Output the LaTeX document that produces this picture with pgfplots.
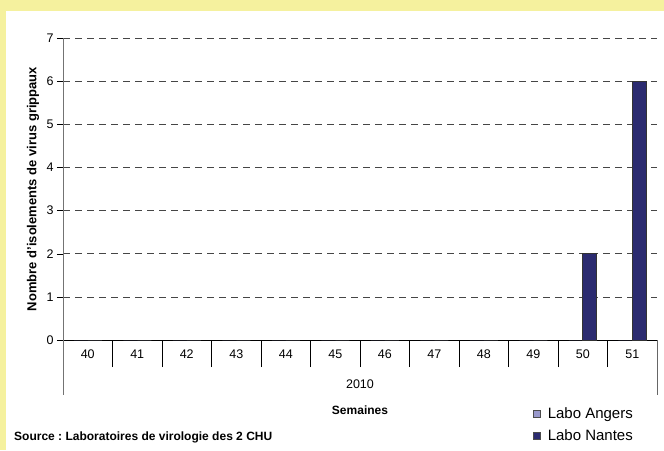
\documentclass[border=0pt]{standalone}
\usepackage{pgfplots}
\pgfplotsset{compat=1.18}
\usepackage{fontspec}
\setmainfont{Liberation Sans}
\definecolor{bgyellow}{RGB}{245,241,158}
\definecolor{nantes}{RGB}{43,43,112}
\definecolor{angers}{RGB}{153,153,204}
\definecolor{gridgray}{RGB}{70,70,70}
\begin{document}
\frenchspacing
\begin{tikzpicture}[x=1pt,y=1pt]
\fill[bgyellow] (0,0) rectangle (664,450);
\fill[white] (6,0) rectangle (664,439);
\begin{axis}[
  at={(63pt,110pt)}, anchor=south west,
  width=594pt, height=302pt, scale only axis,
  clip=false,
  xmin=-0.5, xmax=11.5, ymin=0, ymax=7,
  ybar=0pt, bar width=14pt,
  axis x line*=bottom, axis y line*=left,
  x axis line style={black, -},
  y axis line style={gray!90!black, line width=0.8pt, -},
  ytick={0,1,2,3,4,5,6,7},
  yticklabels={0,1,2,3,4,5,6,7},
  xtick={0,...,11},
  xticklabels={40,41,42,43,44,45,46,47,48,49,50,51},
  tick align=outside, major tick length=6pt,
  xtick style={draw=none},
  ytick style={black},
  extra x ticks={0.5,1.5,2.5,3.5,4.5,5.5,6.5,7.5,8.5,9.5,10.5},
  extra x tick labels={},
  extra x tick style={major tick length=27pt, tick align=outside, xtick style={draw=black}, grid=none},
  ymajorgrids, grid style={gridgray, dash pattern=on 7pt off 5pt, line width=0.6pt},
  /pgf/number format/assume math mode=true,
  tick label style={font=\fontsize{12.5}{14}\selectfont},
  legend style={at={(axis description cs:0.7912,-0.215)}, anchor=north west, draw=none, fill=none,
    font=\fontsize{15}{17}\selectfont, row sep=6pt, inner sep=0pt},
  legend cell align=left,
]
\addplot[fill=angers, draw=none,
  legend image code/.code={\draw[fill=angers, draw=black!70, line width=0.6pt] (0pt,-3.5pt) rectangle (7pt,3.5pt); \path (12pt,0pt);}]
  coordinates {(0,0) (1,0) (2,0) (3,0) (4,0) (5,0) (6,0) (7,0) (8,0) (9,0) (10,0) (11,0)};
\addlegendentry{Labo Angers}
\addplot[fill=nantes, draw=black!80, line width=0.6pt,
  legend image code/.code={\draw[fill=nantes, draw=black!70, line width=0.6pt] (0pt,-3.5pt) rectangle (7pt,3.5pt); \path (12pt,0pt);}]
  coordinates {(0,0) (1,0) (2,0) (3,0) (4,0) (5,0) (6,0) (7,0) (8,0) (9,0) (10,2) (11,6)};
\addlegendentry{Labo Nantes}
\draw[gray!90!black, line width=0.8pt] (rel axis cs:0,0) -- ++(0pt,-55pt);
\draw[gray!80!black, line width=0.6pt] (rel axis cs:1,0) -- ++(0pt,-55pt);
\node[font=\fontsize{12.5}{14}\selectfont] at ([yshift=-44pt]rel axis cs:0.5,0) {2010};
\node[font=\bfseries\fontsize{12}{14}\selectfont] at ([yshift=-70pt]rel axis cs:0.5,0) {Semaines};
\node[rotate=90, font=\bfseries\fontsize{13}{15}\selectfont] at ([xshift=-30pt]rel axis cs:0,0.5) {Nombre d\symbol{"27}isolements de virus grippaux};
\end{axis}
\node[anchor=west, font=\bfseries\fontsize{12}{14}\selectfont, inner sep=0pt] at (14,13) {Source : Laboratoires de virologie des 2 CHU};
\pgfresetboundingbox
\path[use as bounding box] (0,0) rectangle (664,450);
\end{tikzpicture}
\end{document}
